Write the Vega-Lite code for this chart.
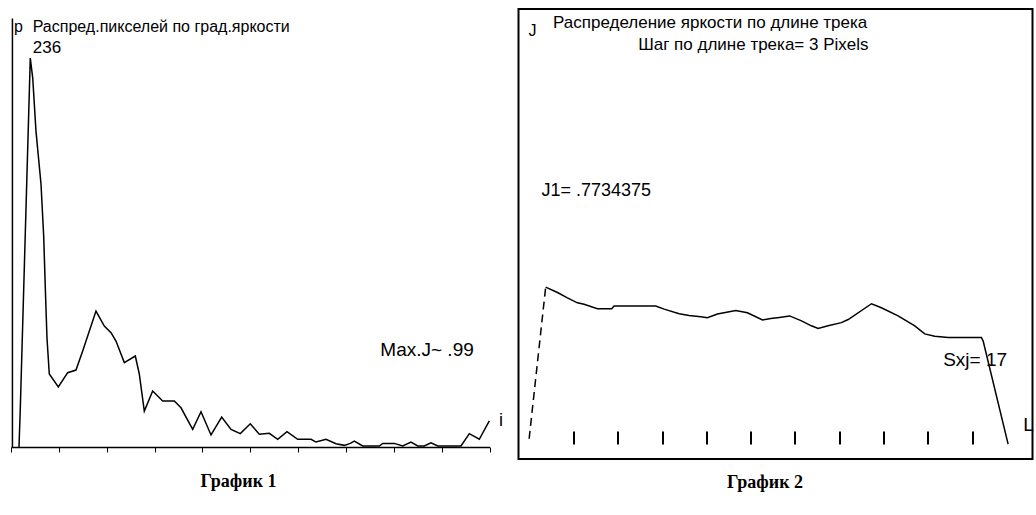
{
  "$schema": "https://vega.github.io/schema/vega-lite/v6.json",
  "padding": {"left": 10, "top": 8, "right": 0, "bottom": 0},
  "background": "white",
  "bounds": "flush",
  "spacing": 28.5,
  "config": {"axis": {"grid": false}, "view": {"stroke": null}, "font": "Liberation Sans"},
  "datasets": {
    "hist": [{"i":1.67,"p":0},{"i":1.94,"p":23.1},{"i":4.03,"p":236},{"i":4.54,"p":223.9},{"i":5.22,"p":191.7},{"i":6.27,"p":159.6},{"i":6.83,"p":128},{"i":7.17,"p":96.5},{"i":7.52,"p":66.1},{"i":8.0,"p":44.3},{"i":9.89,"p":36.4},{"i":11.85,"p":45.1},{"i":13.58,"p":46.7},{"i":14.98,"p":58.3},{"i":17.76,"p":82.5},{"i":19.5,"p":73.4},{"i":20.9,"p":69.4},{"i":21.94,"p":64.3},{"i":23.68,"p":51.2},{"i":25.98,"p":55.2},{"i":26.81,"p":44.3},{"i":27.86,"p":21.8},{"i":29.61,"p":34},{"i":31.7,"p":27.9},{"i":34.13,"p":27.9},{"i":35.53,"p":23.8},{"i":37.97,"p":10.7},{"i":39.71,"p":21.4},{"i":41.8,"p":7.3},{"i":44.03,"p":18.2},{"i":45.98,"p":10.7},{"i":47.92,"p":8.1},{"i":50.01,"p":14.1},{"i":51.89,"p":7.7},{"i":53.98,"p":8.3},{"i":55.74,"p":4.7},{"i":57.68,"p":9.3},{"i":59.92,"p":4.7},{"i":62.7,"p":4.7},{"i":63.74,"p":3},{"i":65.83,"p":4.7},{"i":67.92,"p":2},{"i":69.66,"p":1},{"i":70.91,"p":2.2},{"i":71.75,"p":3.6},{"i":73.5,"p":0.6},{"i":76.97,"p":0.6},{"i":77.68,"p":2.2},{"i":80.1,"p":2.2},{"i":81.86,"p":0.6},{"i":83.59,"p":3},{"i":85,"p":0.6},{"i":86.37,"p":0.6},{"i":87.77,"p":2.6},{"i":89.18,"p":0.6},{"i":94.04,"p":0.6},{"i":95.78,"p":8.1},{"i":97.87,"p":4.7},{"i":99.96,"p":15.8}],
    "track": [{"L":0,"J":0.045},{"L":1.12,"J":0.382},{"L":1.92,"J":0.370},{"L":2.59,"J":0.358},{"L":3.27,"J":0.347},{"L":3.72,"J":0.344},{"L":4.62,"J":0.334},{"L":5.59,"J":0.334},{"L":5.75,"J":0.340},{"L":8.57,"J":0.340},{"L":9.14,"J":0.333},{"L":10.16,"J":0.323},{"L":10.83,"J":0.319},{"L":11.62,"J":0.316},{"L":12.07,"J":0.314},{"L":12.75,"J":0.322},{"L":13.99,"J":0.330},{"L":14.78,"J":0.325},{"L":15.8,"J":0.309},{"L":16.36,"J":0.312},{"L":16.81,"J":0.314},{"L":17.64,"J":0.318},{"L":18.44,"J":0.307},{"L":19.11,"J":0.296},{"L":19.57,"J":0.290},{"L":20.24,"J":0.296},{"L":21.14,"J":0.303},{"L":21.6,"J":0.310},{"L":23.18,"J":0.345},{"L":23.85,"J":0.336},{"L":24.98,"J":0.318},{"L":26.11,"J":0.296},{"L":26.78,"J":0.278},{"L":27.46,"J":0.273},{"L":28.37,"J":0.270},{"L":30.62,"J":0.270},{"L":30.74,"J":0.262},{"L":32.43,"J":0.033}]
  },
  "hconcat": [
    {
      "width": 478.5,
      "height": 438,
      "layer": [
        {
          "data": {"name": "hist"},
          "mark": {"type": "line", "color": "black", "strokeWidth": 1.5},
          "encoding": {
            "x": {"field": "i", "type": "quantitative", "scale": {"domain": [0, 100], "nice": false, "zero": false},
              "axis": {"values": [0,10,20,30,40,50,60,70,80,90,100], "labels": false, "tickSize": 5, "tickColor": "black", "tickWidth": 1, "domainColor": "black", "domainWidth": 1.5,
                "title": "График 1", "titleFont": "Liberation Serif", "titleFontSize": 18, "titleFontWeight": "bold", "titleColor": "black", "titlePadding": 20, "titleX": 227, "titleAlign": "center"}},
            "y": {"field": "p", "type": "quantitative", "scale": {"domain": [0, 265.8], "nice": false}, "axis": null}
          }
        },
        {
          "data": {"values": [{}]},
          "mark": {"type": "rule", "color": "black", "strokeWidth": 1.5},
          "encoding": {"x": {"datum": 0.3, "type": "quantitative"}, "y": {"datum": 0, "type": "quantitative"}, "y2": {"datum": 260}}
        },
        {
          "data": {"values": [{}]},
          "mark": {"type": "text", "align": "left", "baseline": "alphabetic", "fontSize": 16, "color": "black", "font": "Liberation Sans"},
          "encoding": {"x": {"datum": 0.63, "type": "quantitative"}, "y": {"datum": 252, "type": "quantitative"}, "text": {"value": "p"}}
        },
        {
          "data": {"values": [{}]},
          "mark": {"type": "text", "align": "left", "baseline": "alphabetic", "fontSize": 16, "color": "black", "font": "Liberation Sans"},
          "encoding": {"x": {"datum": 4.54, "type": "quantitative"}, "y": {"datum": 252, "type": "quantitative"}, "text": {"value": "Распред.пикселей по град.яркости"}}
        },
        {
          "data": {"values": [{}]},
          "mark": {"type": "text", "align": "left", "baseline": "alphabetic", "fontSize": 17, "color": "black", "font": "Liberation Sans"},
          "encoding": {"x": {"datum": 4.54, "type": "quantitative"}, "y": {"datum": 239.3, "type": "quantitative"}, "text": {"value": "236"}}
        },
        {
          "data": {"values": [{}]},
          "mark": {"type": "text", "align": "left", "baseline": "alphabetic", "fontSize": 19, "color": "black", "font": "Liberation Sans"},
          "encoding": {"x": {"datum": 77.18, "type": "quantitative"}, "y": {"datum": 55.2, "type": "quantitative"}, "text": {"value": "Max.J~ .99"}}
        },
        {
          "data": {"values": [{}]},
          "mark": {"type": "text", "align": "left", "baseline": "alphabetic", "fontSize": 18, "color": "black", "font": "Liberation Sans"},
          "encoding": {"x": {"datum": 102.0, "type": "quantitative"}, "y": {"datum": 12.5, "type": "quantitative"}, "text": {"value": "i"}}
        }
      ]
    },
    {
      "width": 514,
      "height": 450,
      "view": {"stroke": "black", "strokeWidth": 2},
      "layer": [
        {
          "data": {"name": "track"},
          "transform": [{"filter": "datum.L <= 1.2"}],
          "mark": {"type": "line", "color": "black", "strokeWidth": 1.5, "strokeDash": [8, 5]},
          "encoding": {
            "x": {"field": "L", "type": "quantitative", "scale": {"domain": [-0.72, 34.08], "nice": false, "zero": false},
              "axis": {"values": [3,6,9,12,15,18,21,24,27,30], "labels": false, "domain": false, "offset": -28, "tickSize": 13, "tickWidth": 2, "tickColor": "black",
                "title": "График 2", "titleFont": "Liberation Serif", "titleFontSize": 18, "titleFontWeight": "bold", "titleColor": "black", "titlePadding": 28, "titleX": 246, "titleAlign": "center"}},
            "y": {"field": "J", "type": "quantitative", "scale": {"domain": [0, 1], "nice": false}, "axis": null}
          }
        },
        {
          "data": {"name": "track"},
          "transform": [{"filter": "datum.L >= 1.1"}],
          "mark": {"type": "line", "color": "black", "strokeWidth": 1.5},
          "encoding": {"x": {"field": "L", "type": "quantitative"}, "y": {"field": "J", "type": "quantitative"}}
        },
        {
          "data": {"values": [{}]},
          "mark": {"type": "text", "align": "left", "baseline": "alphabetic", "fontSize": 16, "color": "black", "font": "Liberation Sans"},
          "encoding": {"x": {"datum": -0.05, "type": "quantitative"}, "y": {"datum": 0.94, "type": "quantitative"}, "text": {"value": "J"}}
        },
        {
          "data": {"values": [{}]},
          "mark": {"type": "text", "align": "left", "baseline": "alphabetic", "fontSize": 17, "color": "black", "font": "Liberation Sans"},
          "encoding": {"x": {"datum": 1.62, "type": "quantitative"}, "y": {"datum": 0.957, "type": "quantitative"}, "text": {"value": "Распределение яркости по длине трека"}}
        },
        {
          "data": {"values": [{}]},
          "mark": {"type": "text", "align": "left", "baseline": "alphabetic", "fontSize": 17, "color": "black", "font": "Liberation Sans"},
          "encoding": {"x": {"datum": 7.38, "type": "quantitative"}, "y": {"datum": 0.91, "type": "quantitative"}, "text": {"value": "Шаг по длине трека= 3 Pixels"}}
        },
        {
          "data": {"values": [{}]},
          "mark": {"type": "text", "align": "left", "baseline": "alphabetic", "fontSize": 18, "color": "black", "font": "Liberation Sans"},
          "encoding": {"x": {"datum": 0.83, "type": "quantitative"}, "y": {"datum": 0.584, "type": "quantitative"}, "text": {"value": "J1= .7734375"}}
        },
        {
          "data": {"values": [{}]},
          "mark": {"type": "text", "align": "left", "baseline": "alphabetic", "fontSize": 19, "color": "black", "font": "Liberation Sans"},
          "encoding": {"x": {"datum": 28.03, "type": "quantitative"}, "y": {"datum": 0.207, "type": "quantitative"}, "text": {"value": "Sxj= 17"}}
        },
        {
          "data": {"values": [{}]},
          "mark": {"type": "text", "align": "left", "baseline": "alphabetic", "fontSize": 19, "color": "black", "font": "Liberation Sans"},
          "encoding": {"x": {"datum": 33.45, "type": "quantitative"}, "y": {"datum": 0.062, "type": "quantitative"}, "text": {"value": "L"}}
        }
      ]
    }
  ]
}
